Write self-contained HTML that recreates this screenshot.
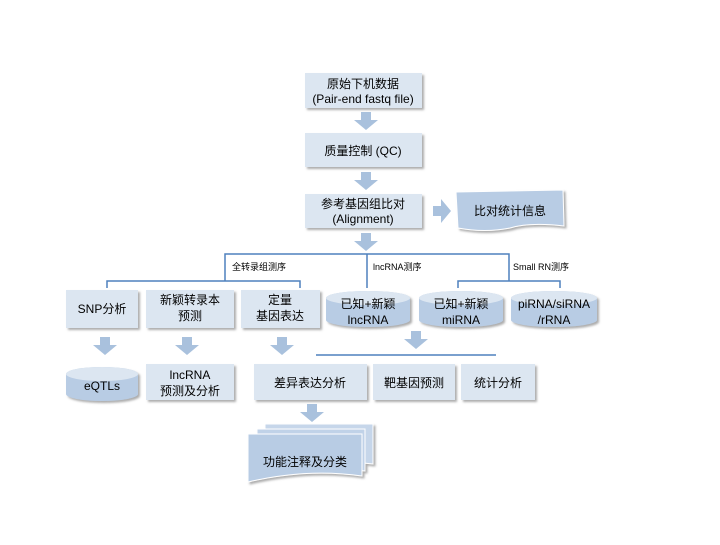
<!DOCTYPE html>
<html><head><meta charset="utf-8"><style>
body{margin:0;background:#fff;width:720px;height:540px;overflow:hidden;font-family:"Liberation Sans","Noto Sans CJK SC",sans-serif}
</style></head><body>
<svg width="720" height="540" viewBox="0 0 720 540" xmlns="http://www.w3.org/2000/svg" font-family="Liberation Sans, Noto Sans CJK SC, sans-serif">
<defs>
<filter id="sh" x="-10%" y="-10%" width="130%" height="140%"><feDropShadow dx="2" dy="2" stdDeviation="1" flood-color="#777" flood-opacity="0.6"/></filter>
<g id="ar"><path d="M-5,0 h10 v8 h7 l-12,10 l-12,-10 h7z" fill="#a9c1dd"/></g>
</defs>
<g filter="url(#sh)" fill="#dce6f1">
<rect x="305" y="73" width="117" height="35"/>
<rect x="305" y="133" width="117" height="34"/>
<rect x="305" y="194" width="117" height="34"/>
<rect x="66" y="290" width="72" height="38"/>
<rect x="146" y="290" width="88" height="38"/>
<rect x="241" y="290" width="79" height="38"/>
<rect x="146" y="364" width="88" height="36"/>
<rect x="254" y="364" width="113" height="36"/>
<rect x="373" y="364" width="82" height="36"/>
<rect x="461" y="364" width="74" height="36"/>
</g>
<path d="M456,192 L563,190 L564,226 Q530,222 510,228 Q485,233 458,228 Z" fill="#b8cce4" stroke="#fff" filter="url(#sh)"/>
<g filter="url(#sh)">
<path d="M265,424 h108 v40 q-50,-6 -108,6z" fill="#c6d6ea" stroke="#fff"/>
<path d="M257,429 h108 v42 q-50,-6 -108,6z" fill="#c0d2e8" stroke="#fff"/>
<path d="M248,434 h114 v42 q-55,-8 -114,6z" fill="#b8cce4" stroke="#fff"/>
</g>
<g filter="url(#sh)">
<path d="M326,298 a42,7 0 0 1 84,0 v22 a42,7 0 0 1 -84,0z" fill="#b8cce4"/>
<ellipse cx="368" cy="298" rx="42" ry="7" fill="#dce6f1"/>
<path d="M419,298 a42,7 0 0 1 84,0 v22 a42,7 0 0 1 -84,0z" fill="#b8cce4"/>
<ellipse cx="461" cy="298" rx="42" ry="7" fill="#dce6f1"/>
<path d="M511,298 a43,7 0 0 1 86,0 v22 a43,7 0 0 1 -86,0z" fill="#b8cce4"/>
<ellipse cx="554" cy="298" rx="43" ry="7" fill="#dce6f1"/>
<path d="M66,374 a36,7 0 0 1 72,0 v20 a36,7 0 0 1 -72,0z" fill="#b8cce4"/>
<ellipse cx="102" cy="374" rx="36" ry="7" fill="#dce6f1"/>
</g>
<use href="#ar" x="366" y="112"/>
<use href="#ar" x="366" y="172"/>
<use href="#ar" x="366" y="233"/>
<use href="#ar" x="105" y="337"/>
<use href="#ar" x="187" y="337"/>
<use href="#ar" x="282" y="337"/>
<use href="#ar" x="416" y="331"/>
<use href="#ar" x="312" y="404"/>
<path d="M433,206 h8 v-7 l10,12 l-10,12 v-7 h-8z" fill="#a9c1dd"/>
<g stroke="#4f81bd" stroke-width="1.5" fill="none">
<path d="M225,281 V254 H509 V281"/>
<path d="M367,254 V288"/>
<path d="M107,288 V281 H300 V288"/>
<path d="M458,288 V281 H560 V288"/>
<path d="M316,355 H496"/>
</g>
<g font-size="9" fill="#000">
<text x="232" y="270">全转录组测序</text>
<text x="373" y="270">lncRNA测序</text>
<text x="513" y="270">Small RN测序</text>
</g>
<g font-size="12" fill="#000" text-anchor="middle">
<text x="363" y="88">原始下机数据</text>
<text x="363" y="103">(Pair-end fastq file)</text>
<text x="363" y="155">质量控制 (QC)</text>
<text x="363" y="208">参考基因组比对</text>
<text x="363" y="223">(Alignment)</text>
<text x="510" y="215">比对统计信息</text>
<text x="102" y="313">SNP分析</text>
<text x="190" y="304">新颖转录本</text>
<text x="190" y="320">预测</text>
<text x="280" y="304">定量</text>
<text x="280" y="320">基因表达</text>
<text x="368" y="308">已知+新颖</text>
<text x="368" y="324">lncRNA</text>
<text x="461" y="308">已知+新颖</text>
<text x="461" y="324">miRNA</text>
<text x="554" y="308">piRNA/siRNA</text>
<text x="554" y="324">/rRNA</text>
<text x="102" y="390">eQTLs</text>
<text x="190" y="379">lncRNA</text>
<text x="190" y="395">预测及分析</text>
<text x="310" y="387">差异表达分析</text>
<text x="414" y="387">靶基因预测</text>
<text x="498" y="387">统计分析</text>
<text x="305" y="466">功能注释及分类</text>
</g>
</svg>
</body></html>
